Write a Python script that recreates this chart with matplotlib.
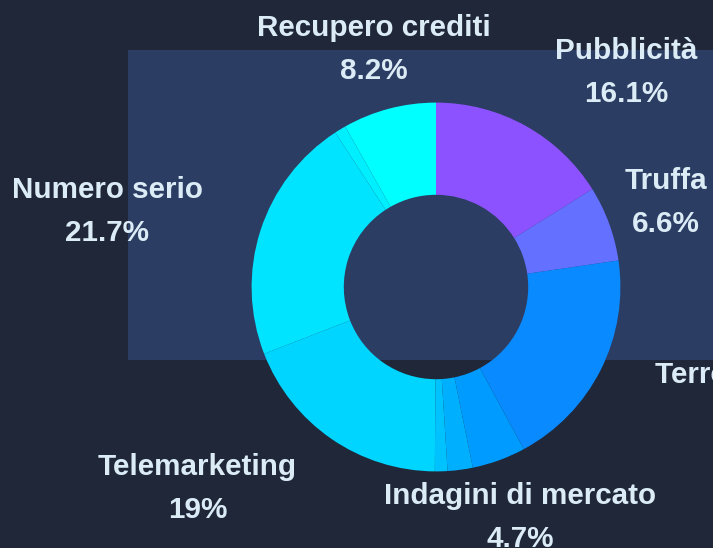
import numpy as np
import matplotlib
matplotlib.use("Agg")
import matplotlib.pyplot as plt

# dati (percentuali)
categorie = ['Pubblicità', 'Truffa', 'Terrore telefonico', 'Indagini di mercato',
             'Sondaggio', 'Chiamata muta', 'Telemarketing', 'Numero serio',
             'Altro', 'Recupero crediti']
percentuali = [16.1, 6.6, 19.4, 4.7, 2.2, 1.1, 19.0, 21.7, 1.0, 8.2]
colori = ['#8c52ff', '#6470ff', '#0a8aff', '#009bff', '#00b0ff', '#00c2ff',
          '#00d5ff', '#00e4ff', '#00efff', '#00ffff']
# allineamento delle etichette (stile)
allineamento = ['left', 'center', 'left', 'center', None, None,
                'right', 'right', None, 'center']

sfondo = '#1f2739'
riquadro = '#2c3d63'
testo = '#dbecf6'

W, H = 713, 548
cx, cy = 436, 287          # centro ciambella (px)
r_px = 184.4               # raggio esterno (px)

fig = plt.figure(figsize=(W / 100, H / 100), dpi=100)
fig.patch.set_facecolor(sfondo)

# riquadro decorativo dietro la ciambella
bg = fig.add_axes([128 / W, (H - 360) / H, 1 - 128 / W, 310 / H])
bg.set_facecolor(riquadro)
bg.set_xticks([])
bg.set_yticks([])
for s in bg.spines.values():
    s.set_visible(False)

ax = fig.add_axes([0, 0, 1, 1])
ax.patch.set_alpha(0)
ax.axis('off')

ax.pie(percentuali, colors=colori, startangle=90, counterclock=False,
       radius=1.0, wedgeprops=dict(width=0.5, linewidth=0))
ax.set_xlim(-cx / r_px, (W - cx) / r_px)
ax.set_ylim(-(H - cy) / r_px, cy / r_px)
ax.set_aspect('auto')

tot = sum(percentuali)
cum = np.cumsum([0] + percentuali)
dist = 1.33
for i, nome in enumerate(categorie):
    if allineamento[i] is None:
        continue
    mid = (cum[i] + percentuali[i] / 2) / tot * 2 * np.pi
    x = dist * np.sin(mid)
    y = dist * np.cos(mid)
    ax.text(x, y, f"{nome}\n{percentuali[i]:g}%", ha=allineamento[i], va='center',
            multialignment='center', color=testo, fontsize=21.3, fontweight='bold',
            family='Liberation Sans', linespacing=1.68, clip_on=False)

fig.savefig('out.png', dpi=100, facecolor=sfondo)
